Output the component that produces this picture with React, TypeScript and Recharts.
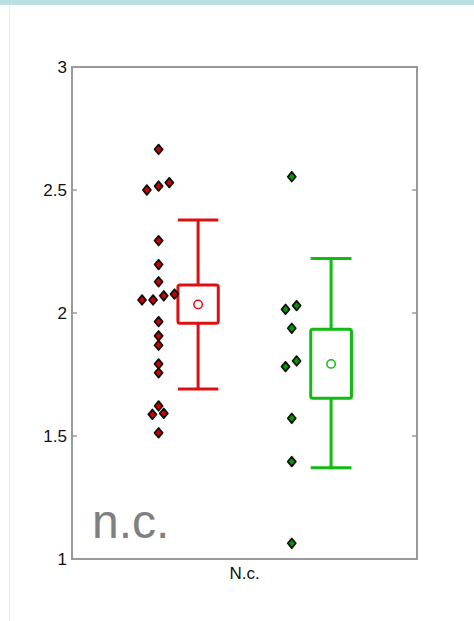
import React from "react";
import {
  ComposedChart,
  Scatter,
  XAxis,
  YAxis,
  ReferenceArea,
  ReferenceLine,
} from "recharts";

// ---- data ----
const categories = ["N.c."];
const yTicks = [1, 1.5, 2, 2.5, 3];
const innerTicks = [1.5, 2, 2.5];

// red group individual points (x = horizontal jitter position within the plot, y = value)
const redPoints = [
  { x: 0.251, y: 2.665 },
  { x: 0.217, y: 2.5 },
  { x: 0.251, y: 2.516 },
  { x: 0.282, y: 2.53 },
  { x: 0.251, y: 2.294 },
  { x: 0.251, y: 2.197 },
  { x: 0.251, y: 2.127 },
  { x: 0.203, y: 2.053 },
  { x: 0.235, y: 2.053 },
  { x: 0.266, y: 2.07 },
  { x: 0.297, y: 2.077 },
  { x: 0.251, y: 1.965 },
  { x: 0.251, y: 1.907 },
  { x: 0.251, y: 1.869 },
  { x: 0.251, y: 1.793 },
  { x: 0.251, y: 1.757 },
  { x: 0.251, y: 1.622 },
  { x: 0.233, y: 1.588 },
  { x: 0.266, y: 1.592 },
  { x: 0.251, y: 1.513 },
];

const greenPoints = [
  { x: 0.637, y: 2.554 },
  { x: 0.619, y: 2.015 },
  { x: 0.651, y: 2.03 },
  { x: 0.637, y: 1.938 },
  { x: 0.619, y: 1.782 },
  { x: 0.651, y: 1.805 },
  { x: 0.637, y: 1.572 },
  { x: 0.637, y: 1.396 },
  { x: 0.637, y: 1.064 },
];

// box summaries
const redBox = { left: 0.307, right: 0.424, low: 1.691, q1: 1.958, q3: 2.114, high: 2.378, mean: 2.035 };
const greenBox = { left: 0.692, right: 0.81, low: 1.371, q1: 1.653, q3: 1.934, high: 2.222, mean: 1.793 };

const RED = "#dd1111";
const GREEN = "#11bb11";
const FRAME = "#9a9a9a";
const FONT = "'Liberation Sans', Arial, Helvetica, sans-serif";

const makeDiamond = (fill: string) => (props: any) => {
  const { cx, cy } = props;
  if (cx == null || cy == null) return <g />;
  const w = 4;
  const h = 4.8;
  return (
    <path
      d={`M${cx},${cy - h} L${cx + w},${cy} L${cx},${cy + h} L${cx - w},${cy} Z`}
      fill={fill}
      stroke="#111"
      strokeWidth={1.8}
      strokeLinejoin="round"
    />
  );
};

const makeCircle = (stroke: string) => (props: any) => {
  const { cx, cy } = props;
  if (cx == null || cy == null) return <g />;
  return <circle cx={cx} cy={cy} r={4.2} fill="#fff" stroke={stroke} strokeWidth={1.5} />;
};

const boxElements = (box: typeof redBox, color: string, key: string) => {
  const mid = (box.left + box.right) / 2;
  const sw = 3;
  return [
    <ReferenceLine
      key={key + "wu"}
      segment={[{ x: mid, y: box.q3 }, { x: mid, y: box.high }]}
      stroke={color}
      strokeWidth={sw}
      ifOverflow="visible"
    />,
    <ReferenceLine
      key={key + "wl"}
      segment={[{ x: mid, y: box.low }, { x: mid, y: box.q1 }]}
      stroke={color}
      strokeWidth={sw}
      ifOverflow="visible"
    />,
    <ReferenceLine
      key={key + "cu"}
      segment={[{ x: box.left, y: box.high }, { x: box.right, y: box.high }]}
      stroke={color}
      strokeWidth={sw}
      ifOverflow="visible"
    />,
    <ReferenceLine
      key={key + "cl"}
      segment={[{ x: box.left, y: box.low }, { x: box.right, y: box.low }]}
      stroke={color}
      strokeWidth={sw}
      ifOverflow="visible"
    />,
    <ReferenceArea
      key={key + "box"}
      x1={box.left}
      x2={box.right}
      y1={box.q1}
      y2={box.q3}
      fill="#fff"
      fillOpacity={1}
      stroke={color}
      strokeWidth={sw}
      radius={2}
      ifOverflow="visible"
    />,
  ];
};

export default function App() {
  return (
    <div
      style={{
        position: "absolute",
        left: 0,
        top: 0,
        width: 474,
        height: 621,
        background: "#fff",
        overflow: "hidden",
      }}
    >
      <div style={{ position: "absolute", left: 0, top: 0, width: 474, height: 5, background: "#b8dfe3" }} />
      <div style={{ position: "absolute", left: 9, top: 5, width: 1, height: 616, background: "#f6e4e4" }} />
      <div style={{ position: "absolute", left: 0, top: 0 }}>
        <ComposedChart
          width={474}
          height={621}
          margin={{ top: 67, right: 57, bottom: 32, left: 12 }}
        >
          <XAxis
            type="number"
            dataKey="x"
            domain={[0, 1]}
            ticks={[0.5]}
            tickFormatter={() => categories[0]}
            axisLine={false}
            tickLine={false}
            tickSize={0}
            tickMargin={8}
            height={30}
            tick={{ fill: "#111", fontSize: 17, fontFamily: FONT }}
            allowDataOverflow
          />
          <YAxis
            type="number"
            dataKey="y"
            domain={[1, 3]}
            ticks={yTicks}
            axisLine={false}
            tickLine={false}
            tickSize={0}
            tickMargin={5}
            width={60}
            tick={{ fill: "#111", fontSize: 17, fontFamily: FONT }}
            allowDataOverflow
          />
          <ReferenceArea
            x1={0}
            x2={1}
            y1={1}
            y2={3}
            fill="none"
            stroke={FRAME}
            strokeWidth={2}
            ifOverflow="visible"
          />
          {innerTicks.map((t) => (
            <ReferenceLine
              key={"tl" + t}
              segment={[{ x: 0, y: t }, { x: 0.014, y: t }]}
              stroke={FRAME}
              strokeWidth={1.5}
            />
          ))}
          {innerTicks.map((t) => (
            <ReferenceLine
              key={"tr" + t}
              segment={[{ x: 0.986, y: t }, { x: 1, y: t }]}
              stroke={FRAME}
              strokeWidth={1.5}
            />
          ))}
          {boxElements(redBox, RED, "r")}
          {boxElements(greenBox, GREEN, "g")}
          <Scatter
            data={[{ x: (redBox.left + redBox.right) / 2, y: redBox.mean }]}
            shape={makeCircle(RED)}
            isAnimationActive={false}
          />
          <Scatter
            data={[{ x: (greenBox.left + greenBox.right) / 2, y: greenBox.mean }]}
            shape={makeCircle(GREEN)}
            isAnimationActive={false}
          />
          <Scatter data={redPoints} shape={makeDiamond("#cc0000")} isAnimationActive={false} />
          <Scatter data={greenPoints} shape={makeDiamond("#009900")} isAnimationActive={false} />
        </ComposedChart>
      </div>
      <div
        style={{
          position: "absolute",
          left: 92,
          top: 494,
          fontFamily: FONT,
          fontSize: 48,
          color: "#808080",
          lineHeight: "56px",
        }}
      >
        n.c.
      </div>
    </div>
  );
}
